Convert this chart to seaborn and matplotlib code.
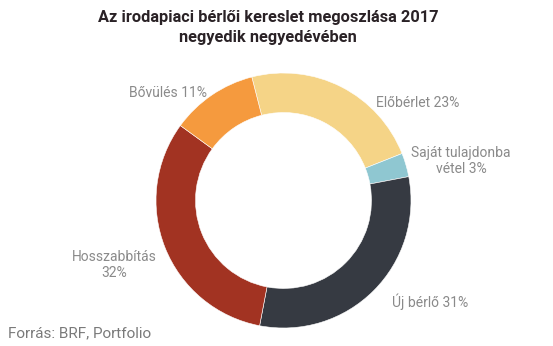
import matplotlib
matplotlib.use("Agg")
import matplotlib.pyplot as plt
import seaborn as sns

categories = ["Előbérlet", "Saját tulajdonba vétel", "Új bérlő", "Hosszabbítás", "Bővülés"]
values = [23, 3, 31, 32, 11]
label_texts = ["Előbérlet 23%", "Saját tulajdonba\nvétel 3%", "Új bérlő 31%", "Hosszabbítás\n32%", "Bővülés 11%"]
colors = ["#F5D487", "#8FC7D1", "#363A42", "#A23322", "#F59A3E"]
title = "Az irodapiaci bérlői kereslet megoszlása 2017\nnegyedik negyedévében"
source = "Forrás: BRF, Portfolio"

sns.set_theme(style="white")
plt.rcParams["font.family"] = ["Roboto", "DejaVu Sans"]

W, H = 553, 346
fig = plt.figure(figsize=(W / 100, H / 100), dpi=100)
fig.patch.set_facecolor("white")

# donut axes: center (283.5, 200.5), outer radius 127.5 px
cx, cy, r = 283.5, 200.5, 127.5
ax = fig.add_axes([(cx - r) / W, (H - cy - r) / H, 2 * r / W, 2 * r / H])
palette = sns.color_palette(colors)
ax.pie(values, colors=palette, startangle=104.4, counterclock=False,
       radius=1.0, wedgeprops=dict(width=0.31, edgecolor="white", linewidth=0.4))
ax.set_xlim(-1, 1)
ax.set_ylim(-1, 1)
ax.set_aspect("equal")
ax.axis("off")

def px(x, y):
    return x / W, 1 - y / H

lab_color = "#8a8a8a"
fs = 10
positions = [
    (376, 103, "left", "center"),
    (461, 161, "center", "center"),
    (392, 302, "left", "center"),
    (114, 265, "center", "center"),
    (207, 93, "right", "center"),
]
for txt, (x, y, ha, va) in zip(label_texts, positions):
    fig.text(*px(x, y), txt, ha=ha, va=va, color=lab_color, fontsize=fs,
             linespacing=1.15)

fig.text(*px(268, 27.5), title, ha="center", va="center", fontsize=11.8,
         fontweight="bold", color="#2a2226", linespacing=1.45)
fig.text(*px(8, 333), source, ha="left", va="center", fontsize=11, color="#7a7a7a")

fig.savefig("out.png", dpi=100, facecolor="white")
